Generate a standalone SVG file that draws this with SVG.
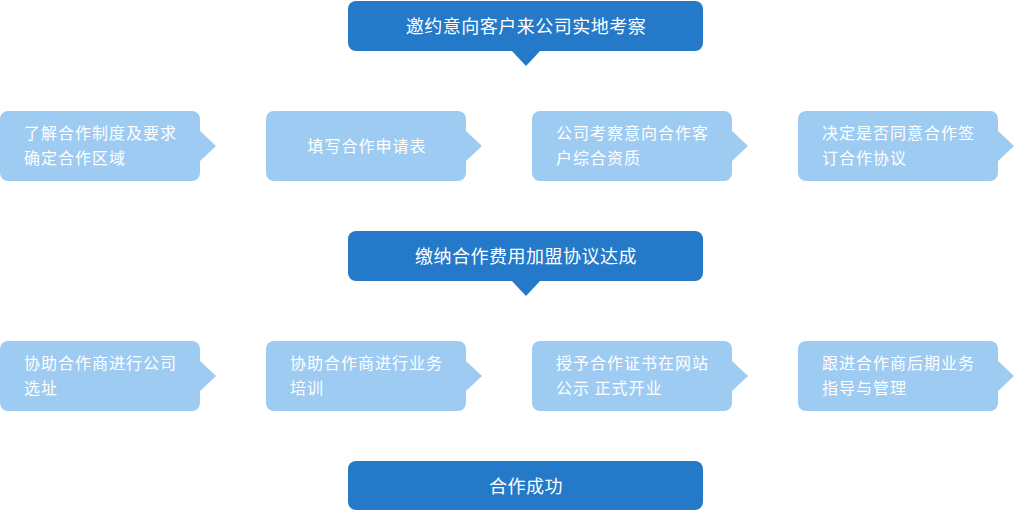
<svg xmlns="http://www.w3.org/2000/svg" width="1014" height="511" viewBox="0 0 1014 511">
<style>
.dark{fill:#2479c9}
.light{fill:#9ecbf2}
.t{font-family:"Noto Sans CJK SC","Noto Sans",sans-serif;fill:#ffffff}
.td{font-size:18px;text-anchor:middle;letter-spacing:0.5px}
.tl{font-size:16px;letter-spacing:1px}
</style>
<g id="connectors"></g>
<g id="n1"><rect class="dark" x="348" y="1" width="355" height="50" rx="8"/><polygon class="dark" points="511,50 541,50 526,66"/><text class="t td" x="526" y="33">邀约意向客户来公司实地考察</text></g>
<g id="n2"><rect class="light" x="0" y="111" width="200" height="70" rx="8"/><polygon class="light" points="199,130 216,146 199,162"/><text class="t tl" x="24" y="139">了解合作制度及要求</text><text class="t tl" x="24" y="164">确定合作区域</text></g>
<g id="n3"><rect class="light" x="266" y="111" width="200" height="70" rx="8"/><polygon class="light" points="465,130 482,146 465,162"/><text class="t tl" x="367" y="152" text-anchor="middle">填写合作申请表</text></g>
<g id="n4"><rect class="light" x="532" y="111" width="200" height="70" rx="8"/><polygon class="light" points="731,130 748,146 731,162"/><text class="t tl" x="556" y="139">公司考察意向合作客</text><text class="t tl" x="556" y="164">户综合资质</text></g>
<g id="n5"><rect class="light" x="798" y="111" width="200" height="70" rx="8"/><polygon class="light" points="997,130 1014,146 997,162"/><text class="t tl" x="822" y="139">决定是否同意合作签</text><text class="t tl" x="822" y="164">订合作协议</text></g>
<g id="n6"><rect class="dark" x="348" y="231" width="355" height="50" rx="8"/><polygon class="dark" points="511,280 541,280 526,296"/><text class="t td" x="526" y="263">缴纳合作费用加盟协议达成</text></g>
<g id="n7"><rect class="light" x="0" y="341" width="200" height="70" rx="8"/><polygon class="light" points="199,360 216,376 199,392"/><text class="t tl" x="24" y="369">协助合作商进行公司</text><text class="t tl" x="24" y="394">选址</text></g>
<g id="n8"><rect class="light" x="266" y="341" width="200" height="70" rx="8"/><polygon class="light" points="465,360 482,376 465,392"/><text class="t tl" x="290" y="369">协助合作商进行业务</text><text class="t tl" x="290" y="394">培训</text></g>
<g id="n9"><rect class="light" x="532" y="341" width="200" height="70" rx="8"/><polygon class="light" points="731,360 748,376 731,392"/><text class="t tl" x="556" y="369">授予合作证书在网站</text><text class="t tl" x="556" y="394">公示 正式开业</text></g>
<g id="n10"><rect class="light" x="798" y="341" width="200" height="70" rx="8"/><polygon class="light" points="997,360 1014,376 997,392"/><text class="t tl" x="822" y="369">跟进合作商后期业务</text><text class="t tl" x="822" y="394">指导与管理</text></g>
<g id="n11"><rect class="dark" x="348" y="461" width="355" height="49" rx="8"/><text class="t td" x="526" y="493">合作成功</text></g>
</svg>
